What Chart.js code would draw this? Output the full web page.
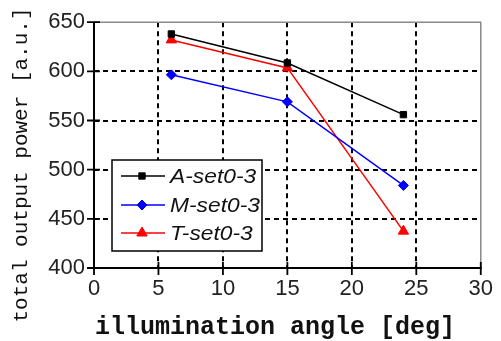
<!DOCTYPE html>
<html><head><meta charset="utf-8">
<script src="https://cdn.jsdelivr.net/npm/chart.js@4/dist/chart.umd.min.js"></script>
<style>html,body{margin:0;padding:0;background:#fff}#wrap{width:501px;height:341px}</style>
</head><body><div id="wrap"><canvas id="c" width="501" height="341"></canvas></div>
<script>
const angles = [6, 15, 24];
const seriesA = [638, 608.5, 556];
const seriesM = [596.5, 569, 484];
const seriesT = [632, 603.5, 437.5];
const seriesNames = ['A-set0-3', 'M-set0-3', 'T-set0-3'];
const xTicks = [0, 5, 10, 15, 20, 25, 30];
const yTicks = [400, 450, 500, 550, 600, 650];
const xTitle = 'illumination angle [deg]';
const yTitle = 'total output power [a.u.]';

const toPts = (vals) => angles.map((a, i) => ({x: a, y: vals[i]}));

const decor = {
  id: 'decor',
  beforeDatasetsDraw(chart) {
    const ctx = chart.ctx;
    const a = chart.chartArea;
    ctx.save();
    ctx.setLineDash([]);
    ctx.strokeStyle = '#8a8a8a';
    ctx.lineWidth = 1.5;
    ctx.beginPath();
    ctx.moveTo(a.left, a.top); ctx.lineTo(a.right, a.top); ctx.lineTo(a.right, a.bottom);
    ctx.stroke();
    ctx.strokeStyle = '#000';
    ctx.lineWidth = 2;
    ctx.beginPath();
    ctx.moveTo(a.left, a.top); ctx.lineTo(a.left, a.bottom); ctx.lineTo(a.right + 1, a.bottom);
    ctx.stroke();
    ctx.restore();
  },
  afterDraw(chart) {
    const ctx = chart.ctx;
    const a = chart.chartArea;
    const xs = chart.scales.x, ys = chart.scales.y;
    ctx.save();
    ctx.setLineDash([]);
    ctx.strokeStyle = '#000';
    ctx.lineWidth = 1.8;
    ctx.beginPath();
    yTicks.forEach(v => { const y = ys.getPixelForValue(v); ctx.moveTo(a.left - 7, y); ctx.lineTo(a.left + 6, y); });
    xTicks.forEach(v => { const x = xs.getPixelForValue(v); ctx.moveTo(x, a.bottom - 6); ctx.lineTo(x, a.bottom + 7); });
    ctx.stroke();
    const L = 112, T = 160, R = 262, B = 251;
    ctx.fillStyle = '#fff';
    ctx.fillRect(L, T, R - L, B - T);
    ctx.strokeStyle = '#000';
    ctx.lineWidth = 1.5;
    ctx.strokeRect(L, T, R - L, B - T);
    const rows = [176, 205, 233];
    chart.data.datasets.forEach((ds, i) => {
      const y = rows[i];
      ctx.strokeStyle = ds.borderColor;
      ctx.fillStyle = ds.backgroundColor;
      ctx.lineWidth = 1.5;
      ctx.beginPath(); ctx.moveTo(121, y); ctx.lineTo(165, y); ctx.stroke();
      ctx.lineWidth = 1;
      Chart.helpers.drawPoint(ctx, {pointStyle: ds.pointStyle, radius: ds.pointRadius, borderWidth: 1, rotation: 0}, 142, y);
      ctx.save();
      ctx.fillStyle = '#111';
      ctx.font = 'italic 20px "Liberation Sans", Arial, sans-serif';
      ctx.textBaseline = 'middle';
      ctx.textAlign = 'left';
      ctx.translate(170, y + 1);
      ctx.scale(1.14, 1);
      ctx.fillText(seriesNames[i], 0, 0);
      ctx.restore();
    });
    ctx.fillStyle = '#111';
    ctx.font = 'bold 25px "Liberation Mono", "Courier New", monospace';
    ctx.textAlign = 'center';
    ctx.textBaseline = 'alphabetic';
    ctx.fillText(xTitle, 275, 334);
    ctx.save();
    ctx.translate(27, 165);
    ctx.rotate(-Math.PI / 2);
    ctx.font = '21px "Liberation Mono", "Courier New", monospace';
    ctx.fillText(yTitle, 0, 0);
    ctx.restore();
    ctx.restore();
  }
};

const gridColor = (edgeVal, startVal) => (c) => (c.tick && (c.tick.value === edgeVal || c.tick.value === startVal)) ? 'rgba(0,0,0,0)' : '#000';

new Chart(document.getElementById('c'), {
  type: 'line',
  data: {
    datasets: [
      {label: seriesNames[0], data: toPts(seriesA), borderColor: '#000', backgroundColor: '#000', pointBackgroundColor: '#000', pointStyle: 'rect', pointRadius: 4.5, borderWidth: 1.5, pointBorderWidth: 1},
      {label: seriesNames[1], data: toPts(seriesM), borderColor: '#0000ff', backgroundColor: '#0000ff', pointBackgroundColor: '#0000ff', pointStyle: 'rectRot', pointRadius: 5, borderWidth: 1.5, pointBorderWidth: 1},
      {label: seriesNames[2], data: toPts(seriesT), borderColor: '#ff0000', backgroundColor: '#ff0000', pointBackgroundColor: '#ff0000', pointStyle: 'triangle', pointRadius: 6, borderWidth: 1.5, pointBorderWidth: 1}
    ]
  },
  options: {
    responsive: false,
    devicePixelRatio: 1,
    animation: false,
    layout: {padding: {left: 0, right: 17, top: 15, bottom: 0}},
    plugins: {legend: {display: false}, tooltip: {enabled: false}},
    scales: {
      x: {
        type: 'linear', min: 0, max: 30,
        afterBuildTicks: (s) => { s.ticks = xTicks.map(v => ({value: v})); },
        afterFit: (s) => { s.height = 73; },
        grid: {color: gridColor(30, 0), lineWidth: 2, drawTicks: false},
        border: {display: false, dash: [5, 4]},
        ticks: {padding: 8, color: '#222', font: {family: '"Liberation Sans", Arial, sans-serif', size: 22}}
      },
      y: {
        min: 400, max: 650,
        afterBuildTicks: (s) => { s.ticks = yTicks.map(v => ({value: v})); },
        afterFit: (s) => { s.width = 94; },
        grid: {color: gridColor(650, 400), lineWidth: 2, drawTicks: false},
        border: {display: false, dash: [5, 4]},
        ticks: {padding: 9, color: '#222', font: {family: '"Liberation Sans", Arial, sans-serif', size: 22}}
      }
    }
  },
  plugins: [decor]
});
</script>
</body></html>
